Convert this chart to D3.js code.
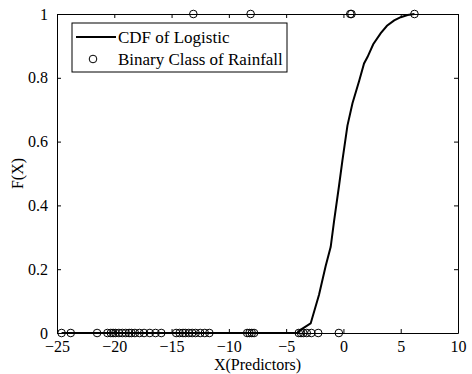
<!DOCTYPE html>
<html>
<head>
<meta charset="utf-8">
<script src="https://cdn.jsdelivr.net/npm/d3@7"></script>
<style>
  body { margin: 0; background: #fff; }
  svg text { font-family: "Liberation Serif", "Times New Roman", Times, serif !important; fill: #000; }
</style>
</head>
<body>
<div id="chart"></div>
<script>
// data
const curveX = [-24.6, -4.0, -3.74, -2.86, -2.13, -1.55, -1.11, -0.82, -0.39, -0.09, 0.35, 0.79, 1.37, 1.8, 2.1, 2.6, 3.26, 3.8, 4.43, 5.0, 5.6, 6.2];
const curveF = [0, 0, 0.01, 0.03, 0.12, 0.21, 0.27, 0.35, 0.46, 0.54, 0.65, 0.72, 0.79, 0.845, 0.865, 0.905, 0.94, 0.963, 0.98, 0.99, 0.997, 1];

const zeroX = [-24.6, -23.8, -21.5, -20.6, -20.3, -20.1, -19.9, -19.6, -19.3, -19.0, -18.7, -18.5, -18.2,
  -17.8, -17.4, -16.9, -16.4, -15.9, -14.6, -14.3, -14.0, -13.8, -13.5, -13.2, -12.9, -12.5, -12.1,
  -11.7, -8.4, -8.2, -8.0, -7.8, -3.9, -3.7, -3.5, -3.2, -2.8, -2.2, -0.4];
const oneX = [-13.1, -8.1, 0.6, 0.7, 6.2];

const xTicks = [-25, -20, -15, -10, -5, 0, 5, 10];
const yTicks = [0, 0.2, 0.4, 0.6, 0.8, 1];
const legendLabels = ['CDF of Logistic', 'Binary Class of Rainfall'];

const width = 472, height = 374;
const margin = {top: 14, right: 14, bottom: 41, left: 57};
const w = width - margin.left - margin.right;
const h = height - margin.top - margin.bottom;
const serif = '"Liberation Serif", "Times New Roman", Times, serif';

const svg = d3.select('#chart').append('svg')
  .attr('width', width)
  .attr('height', height);

const chart = svg.append('g')
  .attr('transform', 'translate(' + margin.left + ',' + margin.top + ')');

const x = d3.scaleLinear().domain([-25, 10]).range([0, w]);
const y = d3.scaleLinear().domain([0, 1]).range([h, 0]);

// axes, ticks pointing inwards like matlab
const fmtY = d => d === 0 ? '0' : (d === 1 ? '1' : d3.format('.1f')(d));

const axisB = chart.append('g')
  .attr('transform', 'translate(0,' + h + ')')
  .call(d3.axisBottom(x).tickValues(xTicks).tickSizeInner(-4).tickSizeOuter(0).tickPadding(2));
const axisT = chart.append('g')
  .call(d3.axisTop(x).tickValues(xTicks).tickSizeInner(-4).tickSizeOuter(0).tickFormat(''));
const axisL = chart.append('g')
  .call(d3.axisLeft(y).tickValues(yTicks).tickSizeInner(-4).tickSizeOuter(0).tickPadding(9).tickFormat(fmtY));
const axisR = chart.append('g')
  .attr('transform', 'translate(' + w + ',0)')
  .call(d3.axisRight(y).tickValues(yTicks).tickSizeInner(-4).tickSizeOuter(0).tickFormat(''));

[axisB, axisT, axisL, axisR].forEach(a => {
  a.attr('font-family', serif);
  a.select('.domain').attr('stroke', '#000').attr('stroke-width', 1);
  a.selectAll('.tick line').attr('stroke', '#000');
  a.selectAll('.tick text').attr('font-size', 16).style('font-family', serif);
});
axisB.selectAll('.tick text').attr('y', 6).attr('dy', '0.8em');

// curve
const line = d3.line()
  .x((d, i) => x(curveX[i]))
  .y((d, i) => y(curveF[i]));

chart.append('path')
  .datum(curveF)
  .attr('fill', 'none')
  .attr('stroke', '#000')
  .attr('stroke-width', 2)
  .attr('d', line);

// observations
const pts = zeroX.map(v => ({x: v, c: 0})).concat(oneX.map(v => ({x: v, c: 1})));
chart.selectAll('circle.obs')
  .data(pts)
  .enter().append('circle')
  .attr('class', 'obs')
  .attr('cx', d => x(d.x))
  .attr('cy', d => y(d.c))
  .attr('r', 3.8)
  .attr('fill', 'none')
  .attr('stroke', '#000')
  .attr('stroke-width', 1);

// axis labels
svg.append('text')
  .attr('x', margin.left + w / 2)
  .attr('y', 370)
  .attr('text-anchor', 'middle')
  .attr('font-size', 16)
  .style('font-family', serif)
  .text('X(Predictors)');

svg.append('text')
  .attr('transform', 'translate(23,' + (margin.top + h / 2) + ') rotate(-90)')
  .attr('text-anchor', 'middle')
  .attr('font-size', 16)
  .style('font-family', serif)
  .text('F(X)');

// legend
const legend = svg.append('g').attr('class', 'legend');
legend.append('rect')
  .attr('x', 72).attr('y', 23)
  .attr('width', 215).attr('height', 49)
  .attr('fill', '#fff')
  .attr('stroke', '#000');

legend.append('line')
  .attr('x1', 76).attr('x2', 116)
  .attr('y1', 37).attr('y2', 37)
  .attr('stroke', '#000').attr('stroke-width', 2);
legend.append('circle')
  .attr('cx', 93).attr('cy', 59).attr('r', 3.8)
  .attr('fill', 'none').attr('stroke', '#000');

legend.selectAll('text')
  .data(legendLabels)
  .enter().append('text')
  .attr('x', 118)
  .attr('y', (d, i) => 43 + i * 22)
  .attr('font-size', 17)
  .style('font-family', serif)
  .text(d => d);
</script>
</body>
</html>
